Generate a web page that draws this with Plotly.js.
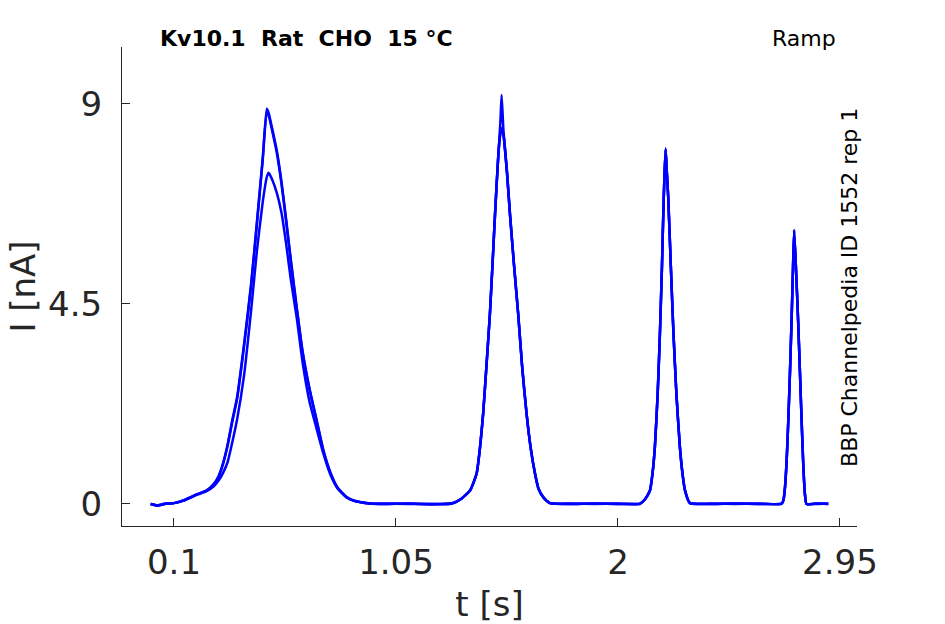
<!DOCTYPE html>
<html>
<head>
<meta charset="utf-8">
<script src="https://cdn.plot.ly/plotly-3.0.1.min.js"></script>
<style>html,body{margin:0;padding:0;background:#fff;}#plot{width:945px;height:624px;}</style>
</head>
<body>
<div id="plot"></div>
<script>
// time samples [s]
const tSec = [
  0.00, 0.03, 0.06, 0.10, 0.14, 0.17, 0.20, 0.24, 0.27, 0.29, 0.31, 0.33, 0.35, 0.37, 0.40, 0.43, 0.455, 0.48, 0.497, 0.505, 0.52, 0.54, 0.56, 0.58, 0.60, 0.625, 0.65, 0.68, 0.71, 0.74, 0.77, 0.80, 0.84, 0.87, 0.94,
  1.00, 1.10, 1.20, 1.29, 1.33, 1.367, 1.395, 1.41, 1.423, 1.437, 1.452, 1.465, 1.474, 1.488, 1.497, 1.502, 1.51, 1.525, 1.538, 1.555, 1.573, 1.59, 1.609, 1.627, 1.645, 1.66, 1.68, 1.709, 1.80, 1.90, 2.00,
  2.094, 2.115, 2.137, 2.148, 2.158, 2.17, 2.18, 2.188, 2.194, 2.199, 2.204, 2.209, 2.215, 2.226, 2.237, 2.25, 2.265, 2.276, 2.287, 2.308, 2.40, 2.50, 2.60, 2.70,
  2.708, 2.715, 2.722, 2.729, 2.736, 2.743, 2.749, 2.754, 2.762, 2.771, 2.779, 2.786, 2.793, 2.80, 2.807, 2.85, 2.90
];
// current [nA], three repetitions
const iRepA = [
  0.00, -0.04, 0.00, 0.02, 0.08, 0.15, 0.22, 0.31, 0.45, 0.62, 0.92, 1.35, 1.90, 2.40, 3.60, 4.95, 6.35, 7.80, 8.89, 8.80, 8.45, 7.95, 7.25, 6.40, 5.50, 4.44, 3.45, 2.60, 1.90, 1.20, 0.70, 0.37, 0.15, 0.08, 0.01,
  0.00, 0.01, -0.01, 0.01, 0.12, 0.31, 0.69, 1.30, 2.04, 3.10, 4.29, 5.60, 6.54, 7.85, 8.60, 9.20, 8.40, 7.50, 6.54, 5.40, 4.29, 3.10, 2.04, 1.25, 0.69, 0.35, 0.16, 0.02, 0.00, 0.01, 0.00,
  0.01, 0.10, 0.31, 0.70, 1.29, 2.50, 3.92, 5.30, 6.54, 7.40, 8.00, 7.50, 6.92, 5.40, 3.92, 2.50, 1.29, 0.70, 0.31, 0.02, 0.00, 0.01, 0.00, 0.01,
  0.08, 0.39, 1.00, 1.89, 2.95, 4.14, 5.30, 6.17, 5.30, 4.14, 2.95, 1.89, 0.90, 0.24, 0.00, 0.01, 0.00
];
const iRepB = [
  0.00, -0.03, 0.01, 0.02, 0.08, 0.15, 0.22, 0.30, 0.44, 0.60, 0.90, 1.32, 1.86, 2.36, 3.55, 4.90, 6.30, 7.75, 8.82, 8.75, 8.40, 7.90, 7.20, 6.35, 5.45, 4.40, 3.42, 2.57, 1.88, 1.18, 0.69, 0.36, 0.15, 0.07, 0.01,
  0.01, 0.00, 0.00, 0.02, 0.12, 0.30, 0.68, 1.28, 2.02, 3.08, 4.27, 5.58, 6.52, 7.85, 8.35, 8.45, 8.30, 7.45, 6.50, 5.38, 4.27, 3.08, 2.02, 1.24, 0.68, 0.34, 0.15, 0.02, 0.01, 0.00, 0.01,
  0.00, 0.10, 0.30, 0.69, 1.28, 2.48, 3.90, 5.28, 6.52, 7.38, 7.97, 7.48, 6.90, 5.38, 3.90, 2.48, 1.28, 0.69, 0.30, 0.02, 0.01, 0.00, 0.01, 0.00,
  0.08, 0.38, 0.98, 1.87, 2.93, 4.12, 5.28, 6.14, 5.28, 4.12, 2.93, 1.87, 0.89, 0.23, 0.00, 0.00, 0.01
];
const iRepC = [
  0.00, -0.03, 0.00, 0.02, 0.07, 0.14, 0.21, 0.29, 0.40, 0.52, 0.70, 0.95, 1.40, 1.90, 2.90, 4.35, 5.70, 6.80, 7.35, 7.45, 7.30, 7.00, 6.55, 5.85, 5.05, 4.20, 3.20, 2.30, 1.70, 1.12, 0.65, 0.35, 0.14, 0.07, 0.01,
  0.00, 0.01, 0.00, 0.01, 0.12, 0.30, 0.68, 1.28, 2.02, 3.08, 4.27, 5.58, 6.52, 7.85, 8.35, 8.45, 8.30, 7.45, 6.50, 5.38, 4.27, 3.08, 2.02, 1.24, 0.68, 0.34, 0.15, 0.02, 0.00, 0.01, 0.00,
  0.01, 0.10, 0.30, 0.69, 1.28, 2.48, 3.90, 5.28, 6.52, 7.38, 7.97, 7.48, 6.90, 5.38, 3.90, 2.48, 1.28, 0.69, 0.30, 0.02, 0.00, 0.01, 0.00, 0.01,
  0.08, 0.38, 0.98, 1.87, 2.93, 4.12, 5.28, 6.14, 5.28, 4.12, 2.93, 1.87, 0.89, 0.23, 0.00, 0.01, 0.00
];
const xTickVals = [0.1, 1.05, 2, 2.95];
const xTickText = ['0.1', '1.05', '2', '2.95'];
const yTickVals = [0, 4.5, 9];
const yTickText = ['0', '4.5', '9'];
const titleText = 'Kv10.1  Rat  CHO  15 °C';
const protocolText = 'Ramp';
const sideText = 'BBP Channelpedia ID 1552 rep 1';

const lineStyle = {color: '#0000ff', width: 2.5, shape: 'spline', smoothing: 0.5};
const traces = [iRepA, iRepB, iRepC].map(v => ({
  x: tSec, y: v, type: 'scatter', mode: 'lines', line: lineStyle, hoverinfo: 'skip'
}));

const axisCommon = {
  showgrid: false, zeroline: false, showline: true, linecolor: '#262626', linewidth: 1,
  ticks: 'inside', ticklen: 8, tickcolor: '#262626', tickwidth: 1,
  tickfont: {family: 'DejaVu Sans', size: 34, color: '#262626'}, tickmode: 'array'
};

const layout = {
  width: 945, height: 624,
  margin: {l: 122, r: 88, t: 47, b: 98},
  paper_bgcolor: '#fff', plot_bgcolor: '#fff',
  showlegend: false,
  font: {family: 'DejaVu Sans', color: '#262626'},
  xaxis: Object.assign({}, axisCommon, {
    range: [-0.1225, 3.023], tickvals: xTickVals, ticktext: xTickText, ticklabelstandoff: 6,
    title: {text: 't [s]', font: {family: 'DejaVu Sans', size: 34, color: '#262626'}, standoff: 14},
    automargin: false
  }),
  yaxis: Object.assign({}, axisCommon, {
    range: [-0.495, 10.28], tickvals: yTickVals, ticktext: yTickText, ticklabelstandoff: 12,
    title: {text: 'I [nA]', font: {family: 'DejaVu Sans', size: 34, color: '#262626'}, standoff: 2},
    automargin: false
  }),
  annotations: [
    {xref: 'paper', yref: 'paper', x: 0.049, y: 1.017, xanchor: 'left', yanchor: 'middle', showarrow: false,
     text: '<b>' + titleText + '</b>', font: {family: 'DejaVu Sans', size: 22, color: '#000'}},
    {xref: 'paper', yref: 'paper', x: 0.974, y: 1.017, xanchor: 'right', yanchor: 'middle', showarrow: false,
     text: protocolText, font: {family: 'DejaVu Sans', size: 22, color: '#000'}},
    {xref: 'paper', yref: 'paper', x: 0.9905, y: 0.497, xanchor: 'center', yanchor: 'middle', showarrow: false,
     textangle: -90, text: sideText, font: {family: 'DejaVu Sans', size: 22, color: '#000'}}
  ]
};

Plotly.newPlot('plot', traces, layout, {displayModeBar: false, staticPlot: true});
</script>
</body>
</html>
